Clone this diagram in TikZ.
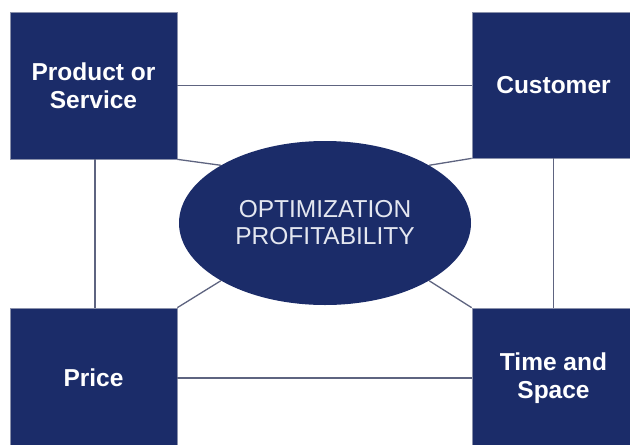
\documentclass[tikz,border=0pt]{standalone}
\usepackage{fontspec}
\setmainfont{Liberation Sans}
\usetikzlibrary{shapes.geometric}
\definecolor{navy}{HTML}{1B2C69}
\definecolor{linkgray}{HTML}{5E6480}
\definecolor{rimgray}{HTML}{8A91AB}
\definecolor{paletext}{HTML}{E4E7F0}
\begin{document}
\begin{tikzpicture}[x=1pt,y=-1pt,
  corner/.style={rectangle, fill=navy, draw=rimgray, line width=0.7pt,
    inner sep=0pt, minimum width=163pt, minimum height=146pt,
    text=white, font=\bfseries\fontsize{24.5}{28}\selectfont, align=center},
  hub/.style={ellipse, fill=navy, inner sep=0pt,
    minimum width=292pt, minimum height=164pt,
    text=paletext, font=\fontsize{24.5}{27}\selectfont, align=center},
  link/.style={draw=linkgray, line width=1.3pt}]
\useasboundingbox (0,0) rectangle (630,445);
\fill[white] (0,0) rectangle (630,445);

% four corner boxes
\node[corner, minimum width=167pt, minimum height=147pt] (prod) at (93.5,85.5) {Product or\\Service};
\node[corner] (cust) at (553.5,85) {Customer};
\node[corner, minimum width=167pt, minimum height=140pt] (price) at (93.5,378) {Price};
\node[corner, minimum height=140pt] (time) at (553.5,378) {Time and\\Space};

% links around the frame
\draw[link] (prod.east) -- (prod.east -| cust.west);
\draw[link] (price.east) -- (price.east -| time.west);
\draw[link] (prod.south -| 95,0) -- (price.north -| 95,0);
\draw[link] (cust.south) -- (time.north);

% central ellipse
\node[hub] (hubnode) at (325,223) {OPTIMIZATION\\PROFITABILITY};

% spokes from the box corners
\draw[link] (prod.south east) -- (hubnode.151);
\draw[link] (cust.south west) -- (hubnode.29);
\draw[link] (price.north east) -- (hubnode.209);
\draw[link] (time.north west) -- (hubnode.331);
\end{tikzpicture}
\end{document}
